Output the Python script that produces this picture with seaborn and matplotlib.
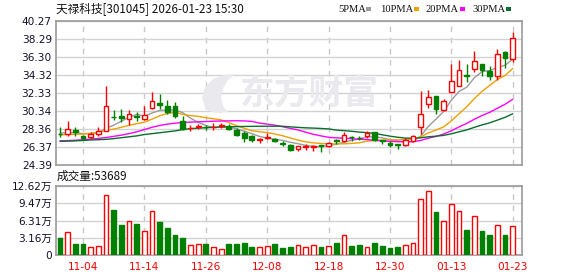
import numpy as np
import pandas as pd
import matplotlib
matplotlib.use("Agg")
import matplotlib.pyplot as plt
import seaborn as sns
from matplotlib.patches import Rectangle, Polygon

# ---------------- data ----------------
title = "天禄科技[301045] 2026-01-23 15:30"
vol_title = "成交量:53689"
dates = [d.strftime("%m-%d") for d in pd.bdate_range("2025-10-30", "2026-01-23")
         if d.strftime("%Y-%m-%d") not in ("2026-01-01", "2026-01-02")]
tick_dates = ["11-04", "11-14", "11-26", "12-08", "12-18", "12-30", "01-13", "01-23"]

open_ = [27.85, 27.84, 28.29, 27.62, 27.48, 27.81, 28.18, 29.72, 29.83, 29.47,
         29.74, 29.47, 30.68, 31.26, 30.93, 30.93, 29.28, 28.43, 28.62, 28.62,
         28.55, 28.68, 28.73, 28.29, 27.92, 27.62, 27.15, 27.42, 27.29, 26.82,
         26.63, 26.16, 26.40, 26.42, 26.55, 26.52, 27.10, 27.04, 27.50, 27.40,
         27.55, 27.99, 27.10, 26.82, 26.66, 26.63, 27.00, 28.58, 31.12, 31.96,
         30.41, 32.44, 33.14, 34.30, 34.98, 35.56, 34.71, 34.16, 36.85, 36.08]
high = [28.58, 29.28, 28.54, 27.73, 27.99, 28.54, 33.06, 30.49, 30.57, 30.41,
        30.19, 30.93, 32.47, 32.25, 31.52, 31.30, 29.75, 28.84, 28.95, 28.80,
        29.02, 29.00, 28.95, 28.47, 28.10, 27.73, 27.35, 27.92, 27.33, 27.00,
        26.74, 26.52, 26.74, 26.63, 26.63, 26.93, 27.29, 27.99, 27.62, 27.62,
        28.10, 28.05, 27.18, 27.07, 26.74, 27.37, 27.73, 32.51, 32.70, 32.03,
        31.70, 35.56, 35.93, 35.56, 36.92, 35.56, 35.27, 37.18, 36.92, 39.01]
low = [27.48, 27.62, 27.62, 27.18, 27.26, 27.55, 28.10, 29.39, 29.09, 28.76,
       29.28, 29.31, 30.57, 30.57, 29.97, 29.53, 28.21, 28.10, 28.36, 28.30,
       28.21, 28.50, 28.21, 27.55, 26.89, 26.89, 26.82, 27.26, 26.98, 26.52,
       25.95, 25.97, 26.08, 25.97, 25.78, 26.38, 26.74, 26.89, 26.99, 27.11,
       27.33, 27.05, 26.74, 26.38, 26.16, 26.52, 26.89, 27.80, 30.64, 30.02,
       30.38, 32.44, 33.06, 33.50, 34.65, 34.16, 33.72, 33.80, 35.09, 35.71]
close = [27.80, 28.36, 27.99, 27.33, 27.81, 28.18, 30.93, 29.66, 29.53, 30.02,
         29.70, 29.91, 31.45, 30.96, 30.27, 29.75, 28.36, 28.48, 28.70, 28.55,
         28.60, 28.75, 28.36, 27.66, 27.33, 27.11, 27.25, 27.48, 27.00, 26.71,
         26.08, 26.45, 26.50, 26.48, 26.50, 26.82, 27.05, 27.66, 27.45, 27.35,
         27.92, 27.11, 27.05, 26.55, 26.60, 27.18, 27.55, 30.05, 31.89, 30.57,
         31.48, 33.69, 34.90, 34.20, 35.82, 34.90, 34.16, 36.66, 36.19, 38.40]
volume = [3.16, 4.13, 2.00, 2.00, 1.40, 1.64, 10.92, 8.19, 5.46, 6.19,
          5.64, 4.37, 8.01, 6.07, 4.91, 3.64, 3.16, 1.82, 2.00, 2.00,
          1.40, 1.10, 2.00, 2.00, 2.18, 1.40, 1.52, 1.64, 2.00, 1.33,
          1.46, 1.76, 1.46, 1.76, 1.46, 1.64, 2.18, 3.58, 1.64, 1.82,
          1.46, 2.18, 1.64, 1.27, 1.46, 1.76, 2.12, 10.19, 11.65, 7.83,
          6.19, 9.28, 8.13, 4.55, 7.22, 4.37, 3.64, 5.40, 3.64, 5.37]
ma5 = [27.90, 27.95, 27.95, 27.85, 27.86, 27.93, 28.45, 28.78, 29.22, 29.66,
       29.97, 29.77, 30.13, 30.41, 30.46, 30.47, 30.16, 29.56, 29.09, 28.75,
       28.51, 28.58, 28.57, 28.38, 28.13, 27.84, 27.54, 27.36, 27.23, 27.10,
       26.90, 26.74, 26.55, 26.44, 26.41, 26.55, 26.67, 26.91, 27.10, 27.27,
       27.49, 27.50, 27.38, 27.20, 27.05, 26.90, 26.99, 27.59, 28.65, 29.45,
       30.30, 31.54, 32.51, 32.97, 34.02, 34.70, 34.80, 35.15, 35.39, 36.07]
ma10 = [27.70, 27.75, 27.78, 27.80, 27.88, 28.00, 28.20, 28.35, 28.55, 28.76,
        28.95, 29.11, 29.45, 29.82, 30.06, 30.22, 29.96, 29.84, 29.75, 29.60,
        29.49, 29.37, 29.06, 28.73, 28.44, 28.17, 28.06, 27.96, 27.80, 27.62,
        27.37, 27.14, 26.95, 26.84, 26.76, 26.73, 26.71, 26.73, 26.77, 26.84,
        27.02, 27.09, 27.14, 27.15, 27.16, 27.19, 27.24, 27.48, 27.93, 28.25,
        28.60, 29.26, 30.05, 30.81, 31.73, 32.51, 33.17, 33.83, 34.26, 35.04]
ma20 = [27.05, 27.08, 27.12, 27.18, 27.25, 27.32, 27.42, 27.55, 27.68, 27.85,
        28.05, 28.30, 28.55, 28.75, 28.90, 29.00, 29.08, 29.12, 29.15, 29.18,
        29.22, 29.24, 29.26, 29.27, 29.25, 29.20, 29.01, 28.90, 28.78, 28.61,
        28.43, 28.26, 28.01, 27.78, 27.60, 27.45, 27.38, 27.35, 27.29, 27.23,
        27.20, 27.11, 27.05, 26.99, 26.96, 26.96, 26.97, 27.10, 27.35, 27.54,
        27.81, 28.17, 28.59, 28.98, 29.44, 29.85, 30.20, 30.65, 31.09, 31.64]
ma30 = [27.00, 27.02, 27.05, 27.10, 27.15, 27.18, 27.22, 27.30, 27.40, 27.50,
        27.60, 27.75, 27.85, 27.95, 28.05, 28.15, 28.30, 28.40, 28.45, 28.50,
        28.55, 28.58, 28.60, 28.62, 28.64, 28.65, 28.66, 28.67, 28.67, 28.66,
        28.60, 28.54, 28.49, 28.46, 28.42, 28.37, 28.24, 28.18, 28.11, 28.02,
        27.96, 27.87, 27.72, 27.57, 27.45, 27.36, 27.34, 27.39, 27.50, 27.57,
        27.66, 27.83, 28.05, 28.26, 28.55, 28.81, 29.04, 29.34, 29.65, 30.04]
price_ticks = [24.39, 26.37, 28.36, 30.34, 32.33, 34.32, 36.30, 38.29, 40.27]
vol_ticks = [0, 3.16, 6.31, 9.47, 12.62]
vol_tick_labels = ["0", "3.16万", "6.31万", "9.47万", "12.62万"]
ma_names = ["5PMA", "10PMA", "20PMA", "30PMA"]

# ---------------- style ----------------
sns.set_style("white")
plt.rcParams["font.family"] = ["DejaVu Sans", "Noto Sans CJK SC"]
CJK = ["Noto Sans CJK SC", "DejaVu Sans"]
RED = "#ff0000"
GREEN = "#008000"
MA_COLORS = ["#9a9a9a", "#f0a000", "#ff00ff", "#0a6e2e"]
GRID = "#d2d2d2"
SPINE = "#9a9a9a"
TXT = "#10102a"
WM = "#e9e9ee"

W, H = 578, 276
fig = plt.figure(figsize=(W / 100, H / 100), dpi=100)
fig.patch.set_facecolor("white")


def fx(px):
    return px / W


def fy(py):
    return 1 - py / H


ax = fig.add_axes([fx(56), fy(165), fx(522 - 56), (165 - 21) / H])
axv = fig.add_axes([fx(56), fy(255), fx(522 - 56), (255 - 186) / H])

df = pd.DataFrame({"i": np.arange(len(dates)), "date": dates, "open": open_, "high": high,
                   "low": low, "close": close, "vol": volume,
                   "ma5": ma5, "ma10": ma10, "ma20": ma20, "ma30": ma30})
up = (df["close"] >= df["open"]).values
colors = np.where(up, RED, GREEN)
tick_pos = [dates.index(d) for d in tick_dates]
XL = (-0.52, 60.2)

# watermark (logo + text)
logo_px = [(206, 110), (202, 98), (205, 87), (213, 79), (224, 75), (236, 74),
           (228, 80), (223, 88), (221, 97), (223, 106), (228, 112), (216, 113)]
fig.patches.append(Polygon([(fx(a), fy(b)) for a, b in logo_px], closed=True,
                           transform=fig.transFigure, facecolor=WM, edgecolor="none", zorder=0))
fig.text(fx(309), fy(93), "东方财富", family=CJK, fontsize=25, fontweight="bold",
         color=WM, ha="center", va="center", zorder=0)

# ---------------- panels ----------------
for a in (ax, axv):
    a.set_facecolor("none")
    a.set_xlim(*XL)
    a.set_xticks(tick_pos)
    a.grid(axis="x", color="#c8c8c8", ls=(0, (4, 4)), lw=1)
    a.grid(axis="y", color=GRID, ls="-", lw=1)
    a.set_axisbelow(True)
    for s in a.spines.values():
        s.set_color(SPINE)
        s.set_linewidth(1.2)
    a.tick_params(length=0, pad=3)

ax.set_ylim(price_ticks[0], price_ticks[-1])
ax.set_yticks(price_ticks)
ax.set_yticklabels([f"{t:.2f}" for t in price_ticks], fontsize=7.6, color=TXT)
ax.set_xticklabels([])

for name, c in zip(["ma5", "ma10", "ma20", "ma30"], MA_COLORS):
    sns.lineplot(data=df, x="i", y=name, ax=ax, color=c, lw=1.0, legend=False, zorder=2)

ax.vlines(df["i"], df["low"], df["high"], colors=colors, lw=1.0, zorder=3)
body_bottom = np.minimum(df["open"], df["close"])
body_h = np.maximum(np.abs(df["close"] - df["open"]), 0.03)
ax.bar(df["i"], body_h, bottom=body_bottom, width=0.62,
       facecolor=np.where(up, "white", GREEN), edgecolor=colors, lw=1.0, zorder=4)
ax.set_xlabel("")
ax.set_ylabel("")

sns.barplot(data=df, x="i", y="vol", native_scale=True, ax=axv, width=0.62,
            errorbar=None, zorder=3)
for p, u in zip(axv.patches, up):
    p.set_facecolor("white" if u else GREEN)
    p.set_edgecolor(RED if u else GREEN)
    p.set_linewidth(1.0)
axv.set_xlim(*XL)
axv.set_ylim(vol_ticks[0], vol_ticks[-1])
axv.set_yticks(vol_ticks)
axv.set_yticklabels(vol_tick_labels, fontsize=7.6, color=TXT, family=["DejaVu Sans", "Noto Sans CJK SC"])
axv.set_xticks(tick_pos)
axv.set_xticklabels(tick_dates, fontsize=7.6, color=RED)
axv.tick_params(axis="x", pad=5)
axv.set_xlabel("")
axv.set_ylabel("")

# ---------------- texts ----------------
fig.text(fx(56), fy(9), title, family=CJK, fontsize=8.4, color="#111111", ha="left", va="center")
fig.text(fx(57), fy(176), vol_title, family=CJK, fontsize=8.4, color="#111111", ha="left", va="center")

leg_x = [338, 380, 426, 472]
sq_x = [365.5, 413.5, 460, 506]
for name, c, tx, sx in zip(ma_names, MA_COLORS, leg_x, sq_x):
    fig.text(fx(tx), fy(9), name, family="Liberation Serif", fontsize=7.6,
             color="#111111", ha="left", va="center")
    fig.patches.append(Rectangle((fx(sx), fy(10.5)), fx(5), 3 / H, transform=fig.transFigure,
                                 facecolor=c, edgecolor="none"))

fig.savefig("out.png", dpi=100, facecolor="white")
